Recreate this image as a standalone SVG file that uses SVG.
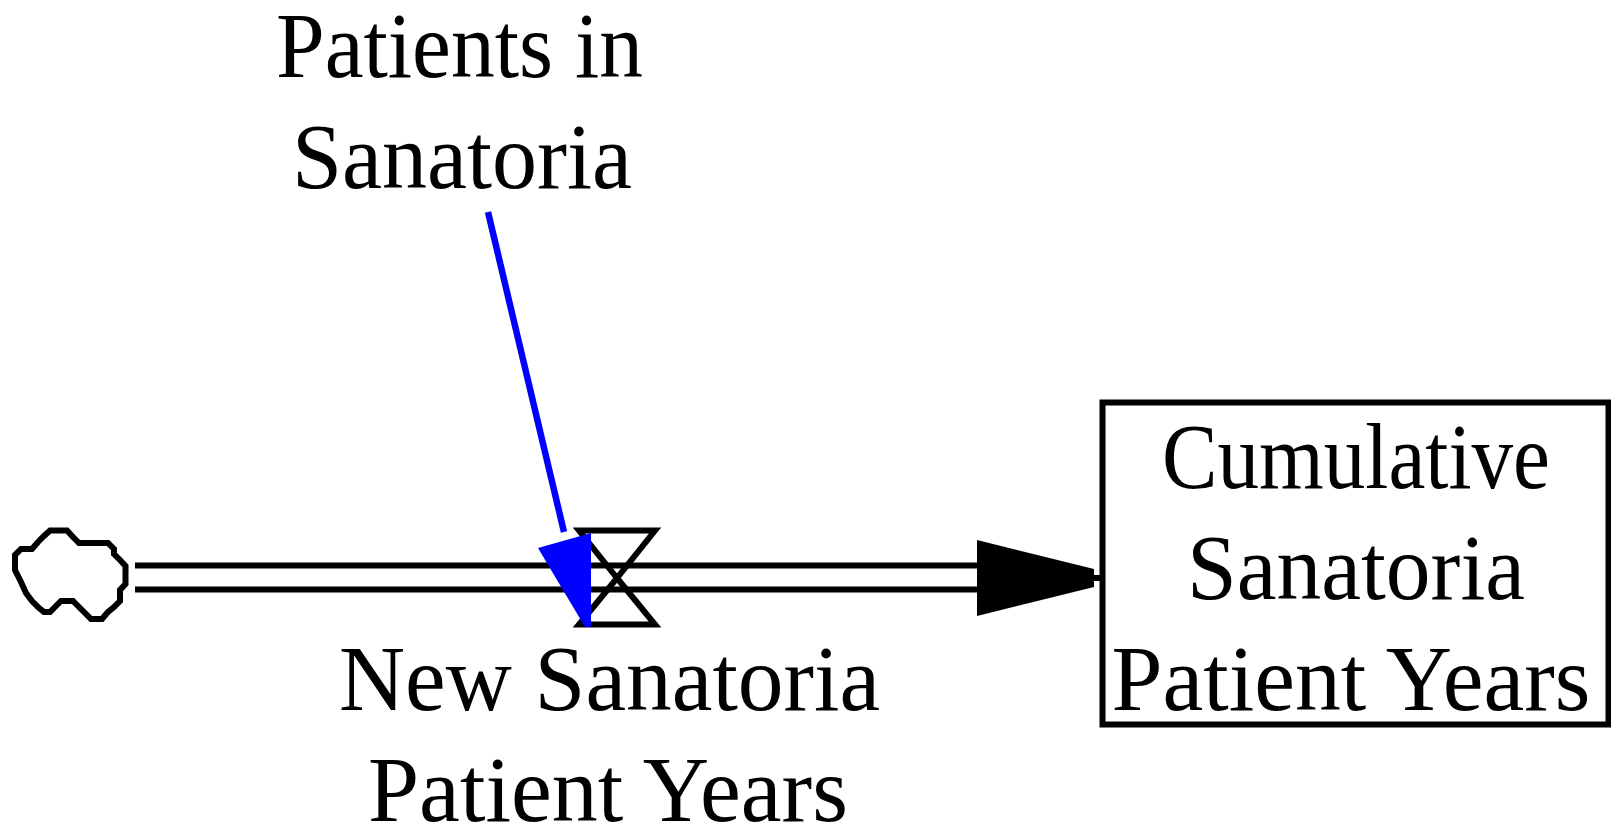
<svg xmlns="http://www.w3.org/2000/svg" width="1611" height="823" viewBox="0 0 1611 823">
  <style>
    .lbl { font-family: "Liberation Serif", "Times New Roman", serif; font-size: 94px; fill: #000; text-anchor: middle; }
    .ln { fill: none; stroke: #000; stroke-width: 6; }
    .outline { fill: none; stroke: #000; stroke-width: 6; stroke-linejoin: miter; }
    .link { fill: none; stroke: #0000ff; stroke-width: 6.5; }
    .linkhead { fill: #0000ff; stroke: none; }
    .flowhead { fill: #000; stroke: none; }
  </style>
  <rect x="0" y="0" width="1611" height="823" fill="#fff"/>

  <g id="connectors">
    <g id="flow_pipe">
      <line class="ln" x1="135" y1="565.5" x2="978" y2="565.5"/>
      <line class="ln" x1="135" y1="589.5" x2="978" y2="589.5"/>
      <polygon class="flowhead" points="977,540 1094,569 1094,575 1101,575 1101,581 1094,581 1094,587 977,616"/>
    </g>
  </g>

  <g id="source_cloud">
    <path class="outline" d="M50,530.5 L67,530.5 L73,537 L79,543 L108,543 L114,549 L114,554 L120,560 L125.5,566 L125.5,584 L120,590 L120,601 L114,607 L108,612 L102,619 L91,619 L85,613 L79,607 L73,601 L61,601 L55,607 L50,612 L44,612 L38,607 L32,601 L26,593 L20.5,581 L15,570 L15,555 L21,549 L32,549 L38,542 L44,536 Z"/>
  </g>

  <g id="new_sanatoria_patient_years">
    <path class="outline" d="M579,530.5 L655,530.5 L617,578 Z"/>
    <path class="outline" d="M579,624.5 L655,624.5 L617,578 Z"/>
    <text class="lbl" x="609.5" y="710" textLength="541" lengthAdjust="spacingAndGlyphs">New Sanatoria</text>
    <text class="lbl" x="608" y="821" textLength="480" lengthAdjust="spacingAndGlyphs">Patient Years</text>
  </g>

  <g id="connectors_link">
    <line class="link" x1="488" y1="212" x2="564" y2="532"/>
    <polygon class="linkhead" points="538,548 591,533 591,627 585,627"/>
  </g>

  <g id="patients_in_sanatoria">
    <text class="lbl" x="459.5" y="77" textLength="367" lengthAdjust="spacingAndGlyphs">Patients in</text>
    <text class="lbl" x="462" y="188" textLength="340" lengthAdjust="spacingAndGlyphs">Sanatoria</text>
  </g>

  <g id="cumulative_sanatoria_patient_years">
    <rect x="1102.5" y="402.5" width="506" height="322" fill="#fff" stroke="#000" stroke-width="6"/>
    <text class="lbl" x="1356" y="488" textLength="388" lengthAdjust="spacingAndGlyphs">Cumulative</text>
    <text class="lbl" x="1356" y="599" textLength="338" lengthAdjust="spacingAndGlyphs">Sanatoria</text>
    <text class="lbl" x="1351" y="710" textLength="479" lengthAdjust="spacingAndGlyphs">Patient Years</text>
  </g>
</svg>
